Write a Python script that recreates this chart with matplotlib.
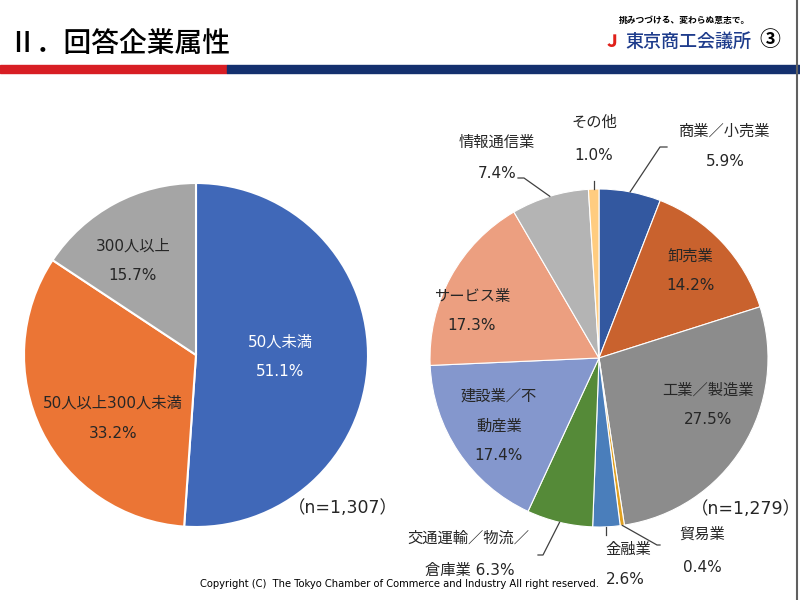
import numpy as np
import matplotlib.pyplot as plt
from matplotlib.lines import Line2D
from matplotlib.patches import Rectangle

plt.rcParams['font.family'] = ['DejaVu Sans', 'Noto Sans CJK JP']
CJK = ['Noto Sans CJK JP', 'DejaVu Sans']

# left pie: company size
size_labels = ["50人未満", "50人以上300人未満", "300人以上"]
size_values = [51.1, 33.2, 15.7]
size_colors = ["#4068B8", "#EB7535", "#A5A5A5"]
size_n = "1,307"

# right pie: industry
ind_labels = ["商業／小売業", "卸売業", "工業／製造業", "貿易業", "金融業",
              "交通運輸／物流／倉庫業", "建設業／不動産業", "サービス業",
              "情報通信業", "その他"]
ind_values = [5.9, 14.2, 27.5, 0.4, 2.6, 6.3, 17.4, 17.3, 7.4, 1.0]
ind_colors = ["#3358A0", "#C9622E", "#8C8C8C", "#E0A020", "#4A7EBB",
              "#558A38", "#8497CD", "#EC9F80", "#B4B4B4", "#FFCC80"]
ind_n = "1,279"

W, H = 800, 600
fig = plt.figure(figsize=(8, 6), dpi=100)


def fx(x):
    return x / W


def fy(y):
    return 1 - y / H


def txt(x, y, s, size=12, color="#404040", **kw):
    fig.text(fx(x), fy(y), s, fontsize=size, color=color, ha="center", va="center", **kw)


def line(xs, ys, color="#404040", lw=0.9):
    fig.add_artist(Line2D([fx(v) for v in xs], [fy(v) for v in ys], color=color, lw=lw,
                          transform=fig.transFigure))


# header
fig.text(fx(8), fy(44), "Ⅱ．回答企業属性", fontsize=20, color="black", ha="left", va="center",
         fontweight="medium", family=CJK)
fig.add_artist(Rectangle((0, fy(73)), fx(227), 8 / H, color="#D81E24", transform=fig.transFigure))
fig.add_artist(Rectangle((fx(227), fy(73)), fx(573), 8 / H, color="#14306E", transform=fig.transFigure))
fig.text(fx(750), fy(21), "挑みつづける、変わらぬ意志で。", fontsize=6.3, color="black", ha="right",
         va="center", fontweight="bold", family=CJK)
fig.text(fx(612), fy(42), "Ｊ", fontsize=12, color="#E0201A", ha="center", va="center",
         fontweight="black", family=CJK)
fig.text(fx(625), fy(42), "東京商工会議所", fontsize=13, color="#1E3C8C", ha="left", va="center",
         fontweight="medium", family=CJK)
fig.text(fx(770), fy(40), "③", fontsize=15, color="black", ha="center", va="center",
         fontweight="bold", family=CJK)

# left pie
lcx, lcy, lr = 196, 355, 172
axl = fig.add_axes([fx(lcx - lr), fy(lcy + lr), 2 * lr / W, 2 * lr / H])
axl.pie(size_values, colors=size_colors, startangle=90, counterclock=False,
        wedgeprops=dict(edgecolor="white", linewidth=1.5))
axl.set_xlim(-1, 1)
axl.set_ylim(-1, 1)
axl.axis("off")

lpos = [(280, 342, "white"), (113, 403, "#262626"), (133, 246, "#262626")]
for (x, y, c), lab, v in zip(lpos, size_labels, size_values):
    txt(x, y, lab, 11, c)
    txt(x, y + 30, f"{v:.1f}%", 11, c)
txt(343, 508, f"（n={size_n}）", 12.5, "#262626")

# right pie
rcx, rcy, rr = 599, 358, 169
axr = fig.add_axes([fx(rcx - rr), fy(rcy + rr), 2 * rr / W, 2 * rr / H])
axr.pie(ind_values, colors=ind_colors, startangle=90, counterclock=False,
        wedgeprops=dict(edgecolor="white", linewidth=0.8))
axr.set_xlim(-1, 1)
axr.set_ylim(-1, 1)
axr.axis("off")

# wedge mid angles (degrees, math convention) for leader lines
cum = np.cumsum([0] + ind_values)
mids = 90 - (cum[:-1] + np.array(ind_values) / 2) * 3.6


def edge(i, k=1.0):
    a = np.radians(mids[i])
    return rcx + rr * k * np.cos(a), rcy - rr * k * np.sin(a)


dark = "#262626"
fs = 11
# 商業／小売業
txt(725, 131, ind_labels[0], fs, dark)
txt(725, 162, f"{ind_values[0]:.1f}%", fs, dark)
x0, y0 = edge(0)
line([x0, 660, 667], [y0, 147, 147])
# 卸売業
txt(690, 256, ind_labels[1], fs, dark)
txt(690, 286, f"{ind_values[1]:.1f}%", fs, dark)
# 工業／製造業
txt(708, 390, ind_labels[2], fs, dark)
txt(708, 420, f"{ind_values[2]:.1f}%", fs, dark)
# 貿易業
txt(702, 534, ind_labels[3], fs, dark)
txt(702, 567, f"{ind_values[3]:.1f}%", fs, dark)
x0, y0 = edge(3)
line([x0, 657, 660], [y0, 545, 545])
# 金融業
txt(628, 549, ind_labels[4], fs, dark)
txt(625, 579, f"{ind_values[4]:.1f}%", fs, dark)
x0, y0 = edge(4)
line([x0, x0], [y0, 535])
# 交通運輸／物流／倉庫業
txt(468, 538, "交通運輸／物流／", fs, dark)
txt(470, 571, f"倉庫業 {ind_values[5]:.1f}%", fs, dark)
x0, y0 = edge(5)
line([x0, 543, 538], [y0, 555, 555])
# 建設業／不動産業
txt(499, 396, "建設業／不", fs, dark)
txt(499, 426, "動産業", fs, dark)
txt(499, 456, f"{ind_values[6]:.1f}%", fs, dark)
# サービス業
txt(472, 296, ind_labels[7], fs, dark)
txt(472, 326, f"{ind_values[7]:.1f}%", fs, dark)
# 情報通信業
txt(497, 142, ind_labels[8], fs, dark)
txt(497, 173, f"{ind_values[8]:.1f}%", fs, dark)
x0, y0 = edge(8)
line([518, 524, x0], [178, 178, y0])
# その他
txt(594, 122, ind_labels[9], fs, dark)
txt(594, 155, f"{ind_values[9]:.1f}%", fs, dark)
x0, y0 = edge(9)
line([x0, x0], [y0, 181])

txt(746, 509, f"（n={ind_n}）", 12.5, dark)

# footer
fig.text(fx(200), fy(584), "Copyright (C)  The Tokyo Chamber of Commerce and Industry All right reserved.",
         fontsize=7.2, color="black", ha="left", va="center")
line([797, 797], [0, 600], color="#606060", lw=1.5)

fig.savefig("out.png", dpi=100)
